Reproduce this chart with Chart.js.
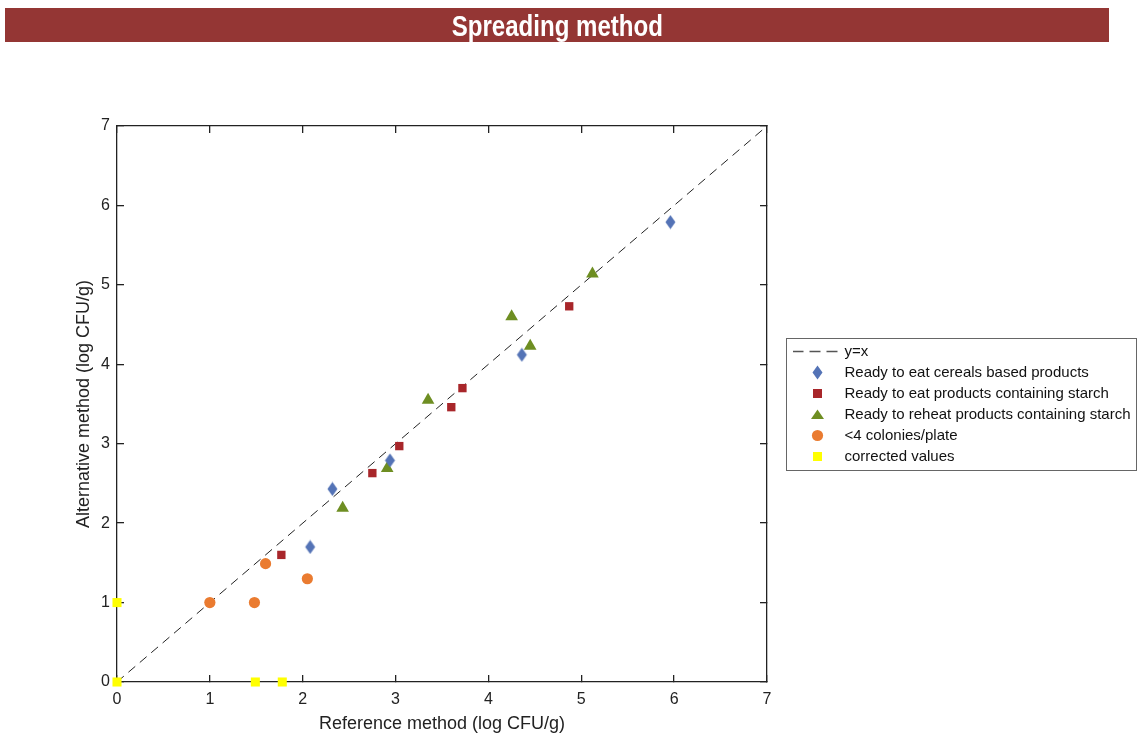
<title>Spreading method</title>
<script src="https://cdn.jsdelivr.net/npm/chart.js@4.4.1/dist/chart.umd.min.js"></script>
<style>
body{margin:0;background:#fff;width:1139px;height:738px;overflow:hidden;position:relative}
#bar{position:absolute;left:5px;top:8px;width:1104px;height:34px;background:#943634;color:#fff;
  font:bold 29px "Liberation Sans",Arial,sans-serif;text-align:center;line-height:36px}
#bar span{display:inline-block;transform:scaleX(0.83);transform-origin:50% 50%}
#wrap{position:absolute;left:0;top:0;width:1139px;height:738px}
</style>
<div id="wrap"><canvas id="c" width="1139" height="738"></canvas></div>
<div id="bar"><span>Spreading method</span></div>
<script>
// y=x reference line
var lineX = [0, 7];
var lineY = [0, 7];

var seriesNames = ['Ready to eat cereals based products', 'Ready to eat products containing starch',
  'Ready to reheat products containing starch', '<4 colonies/plate', 'corrected values'];

var cerealsX = [2.08, 2.32, 2.94, 4.36, 5.96];
var cerealsY = [1.70, 2.43, 2.79, 4.12, 5.79];

var eatStarchX = [1.77, 2.75, 3.04, 3.60, 3.72, 4.87];
var eatStarchY = [1.60, 2.63, 2.97, 3.46, 3.70, 4.73];

var reheatX = [2.43, 2.91, 3.35, 4.25, 4.45, 5.12];
var reheatY = [2.19, 2.69, 3.55, 4.60, 4.23, 5.14];

var coloniesX = [1.00, 1.48, 1.60, 2.05];
var coloniesY = [1.00, 1.00, 1.49, 1.30];

var correctedX = [0, 0, 1.49, 1.78];
var correctedY = [0, 1, 0, 0];

var ticks = [0, 1, 2, 3, 4, 5, 6, 7];

var colors = ['#222222', '#5473B6', '#A8262A', '#6E8E22', '#EA7B30', '#FFFF00'];

function pts(xs, ys){ return xs.map(function(x, i){ return {x: x, y: ys[i]}; }); }

function icon(kind, col){
  var c = document.createElement('canvas');
  var g = c.getContext('2d');
  if(kind == 'line'){
    c.width = 50; c.height = 3;
    g.strokeStyle = '#555'; g.lineWidth = 1.3; g.setLineDash([11, 6]);
    g.beginPath(); g.moveTo(0, 1.5); g.lineTo(50, 1.5); g.stroke();
    return c;
  }
  c.width = 15; c.height = 15;
  g.fillStyle = col;
  g.beginPath();
  if(kind == 'diamond'){ g.moveTo(7.5, 0.5); g.lineTo(12.5, 7.5); g.lineTo(7.5, 14.5); g.lineTo(2.5, 7.5); }
  else if(kind == 'square'){ g.rect(3, 3, 9, 9); }
  else if(kind == 'ysquare'){ g.rect(3, 3, 9, 9); }
  else if(kind == 'triangle'){ g.moveTo(7.5, 2.5); g.lineTo(14, 12); g.lineTo(1, 12); }
  else if(kind == 'circle'){ g.arc(7.5, 7.5, 5.6, 0, Math.PI * 2); }
  g.closePath(); g.fill();
  return c;
}

var diamond = icon('diamond', colors[1]);
var legendIcons = [icon('line'), diamond, icon('square', colors[2]), icon('triangle', colors[3]),
  icon('circle', colors[4]), icon('ysquare', colors[5])];

var font = {family: '"Liberation Sans", Arial, sans-serif'};

function axis(pos, show){
  return {
    type: 'linear', position: pos, min: 0, max: 7,
    afterBuildTicks: function(s){ s.ticks = ticks.map(function(v){ return {value: v}; }); },
    border: {display: true, color: '#222', width: 1.3},
    grid: {drawOnChartArea: false, drawTicks: true, tickLength: -7, color: '#222', lineWidth: 1.3},
    ticks: {display: show, color: '#222', font: {family: font.family, size: 16}}
  };
}

var xAx = axis('bottom', true);
xAx.ticks.padding = 15;
xAx.title = {display: true, text: 'Reference method (log CFU/g)', color: '#222',
  font: {family: font.family, size: 18}, padding: {top: 0, bottom: 3}};
xAx.afterFit = function(s){ s.height = 56; };

var yAx = axis('left', true);
yAx.ticks.padding = 14;
yAx.title = {display: true, text: 'Alternative method (log CFU/g)', color: '#222',
  font: {family: font.family, size: 18}, padding: {top: 73, bottom: 0}};
yAx.afterFit = function(s){ s.width = 117; };

var x2Ax = axis('top', false);
x2Ax.afterFit = function(s){ s.height = 0; };
var y2Ax = axis('right', false);
y2Ax.afterFit = function(s){ s.width = 25; };

// frame round the legend
var legendBox = {
  id: 'legendBox',
  afterDraw: function(chart){
    var lg = chart.legend, hb = lg.legendHitBoxes;
    if(!hb || !hb.length) return;
    var ctx = chart.ctx;
    var top = hb[0].top - 6, bottom = hb[hb.length - 1].top + hb[hb.length - 1].height + 6;
    ctx.save();
    ctx.strokeStyle = '#666'; ctx.lineWidth = 1;
    ctx.strokeRect(lg.left - 5.5, top + 0.5, 1137 - lg.left + 5, bottom - top);
    ctx.restore();
  }
};

var baseDs = {showLine: false, pointBorderWidth: 0, clip: false};

new Chart(document.getElementById('c'), {
  type: 'scatter',
  data: {
    datasets: [
      {label: 'y=x', data: pts(lineX, lineY), showLine: true, pointRadius: 0, borderColor: colors[0],
        borderWidth: 1, borderDash: [9, 6], order: 10},
      Object.assign({label: seriesNames[0], data: pts(cerealsX, cerealsY), pointStyle: diamond,
        backgroundColor: colors[1], borderColor: colors[1]}, baseDs),
      Object.assign({label: seriesNames[1], data: pts(eatStarchX, eatStarchY), pointStyle: 'rect', pointRadius: 5.9,
        backgroundColor: colors[2], borderColor: colors[2]}, baseDs),
      Object.assign({label: seriesNames[2], data: pts(reheatX, reheatY), pointStyle: 'triangle', pointRadius: 7.3,
        backgroundColor: colors[3], borderColor: colors[3]}, baseDs),
      Object.assign({label: seriesNames[3], data: pts(coloniesX, coloniesY), pointStyle: 'circle', pointRadius: 5.6,
        backgroundColor: colors[4], borderColor: colors[4]}, baseDs),
      Object.assign({label: seriesNames[4], data: pts(correctedX, correctedY), pointStyle: 'rect', pointRadius: 6.4,
        backgroundColor: colors[5], borderColor: colors[5]}, baseDs)
    ]
  },
  options: {
    responsive: false,
    animation: false,
    layout: {padding: {top: 126, left: 0, right: 0, bottom: 0}},
    scales: {x: xAx, y: yAx, x2: x2Ax, y2: y2Ax},
    plugins: {
      tooltip: {enabled: false},
      legend: {
        position: 'right', fullSize: false, maxWidth: 347,
        labels: {
          usePointStyle: true, pointStyleWidth: 39, padding: 6, color: '#111',
          font: {family: font.family, size: 15},
          sort: function(a, b){ return a.datasetIndex - b.datasetIndex; },
          generateLabels: function(chart){
            var items = Chart.defaults.plugins.legend.labels.generateLabels(chart);
            items.forEach(function(it){ it.pointStyle = legendIcons[it.datasetIndex]; it.rotation = 0; });
            return items;
          }
        }
      }
    }
  },
  plugins: [legendBox]
});
</script>
